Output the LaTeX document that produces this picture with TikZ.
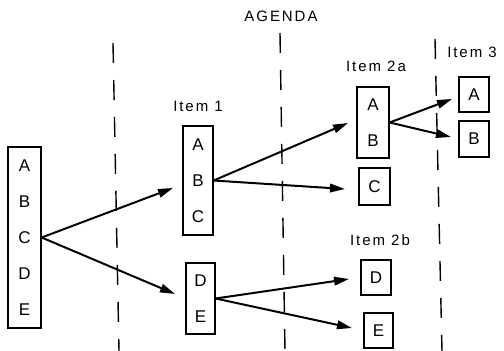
\documentclass[tikz,border=0pt]{standalone}
\usepackage{fontspec}
\setmainfont{Liberation Sans}
\newfontfamily\labfont[LetterSpace=13]{Liberation Sans}
\usetikzlibrary{arrows.meta}
\begin{document}
\begin{tikzpicture}[x=1pt,y=-1pt,
  bx/.style={draw, line width=1.3pt, inner sep=0pt, align=center, font=\fontsize{17}{36}\selectfont},
  lab/.style={font=\labfont\fontsize{15}{17}\selectfont, inner sep=0pt},
  arr/.style={line width=2pt, -{Triangle[length=15pt,width=8.5pt]}},
  sep/.style={line width=1.4pt, dash pattern=on 20pt off 17pt}]
\useasboundingbox (0,0) rectangle (504,351);
% dashed separators
\coordinate (d1t) at (113,43);  \coordinate (d1b) at (119,351);
\coordinate (d2t) at (280,33);  \coordinate (d2b) at (285,351);
\coordinate (d3t) at (435,39);  \coordinate (d3b) at (442,351);
\draw[sep] (d1t) -- (d1b);
\draw[sep] (d2t) -- (d2b);
\draw[sep] (d3t) -- (d3b);
% boxes
\node[bx, minimum width=33pt, minimum height=181pt] (L) at (24.5,237.5) {A\\B\\C\\D\\E};
\node[bx, minimum width=30pt, minimum height=109pt] (I1a) at (198,180.5) {A\\B\\C};
\node[bx, minimum width=29pt, minimum height=71pt] (I1b) at (200.5,298.5) {D\\E};
\node[bx, minimum width=32pt, minimum height=71pt] (I2a) at (373,122.5) {A\\B};
\node[bx, minimum width=31pt, minimum height=37pt] (I2c) at (374.5,186.5) {C};
\node[bx, minimum width=30pt, minimum height=35pt] (I3a) at (474,94.5) {A};
\node[bx, minimum width=30pt, minimum height=36pt] (I3b) at (474,139) {B};
\node[bx, minimum width=30pt, minimum height=35pt] (I2d) at (376,277.5) {D};
\node[bx, minimum width=29pt, minimum height=35pt] (I2e) at (378.5,330.5) {E};
% labels
\node[lab] (agenda) at (281,16) {AGENDA};
\node[lab] (t1) at (198,106) {Item 1};
\node[lab] (t2a) at (376,66) {Item 2a};
\node[lab] (t3) at (472,52) {Item 3};
\node[lab] (t2b) at (380,240) {Item 2b};
% arrow tips
\coordinate (p1) at (173,188);
\coordinate (p2) at (175,294);
\coordinate (p3) at (348,123);
\coordinate (p4) at (345,189);
\coordinate (p5) at (349,279);
\coordinate (p6) at (352,328);
\coordinate (p7) at (452,99);
\coordinate (p8) at (451,137);
% arrows
\draw[arr] (L.east) -- (p1);
\draw[arr] (L.east) -- (p2);
\draw[arr] (I1a.east) -- (p3);
\draw[arr] (I1a.east) -- (p4);
\draw[arr] (I1b.east) -- (p5);
\draw[arr] (I1b.east) -- (p6);
\draw[arr] (I2a.east) -- (p7);
\draw[arr] (I2a.east) -- (p8);
\end{tikzpicture}
\end{document}
